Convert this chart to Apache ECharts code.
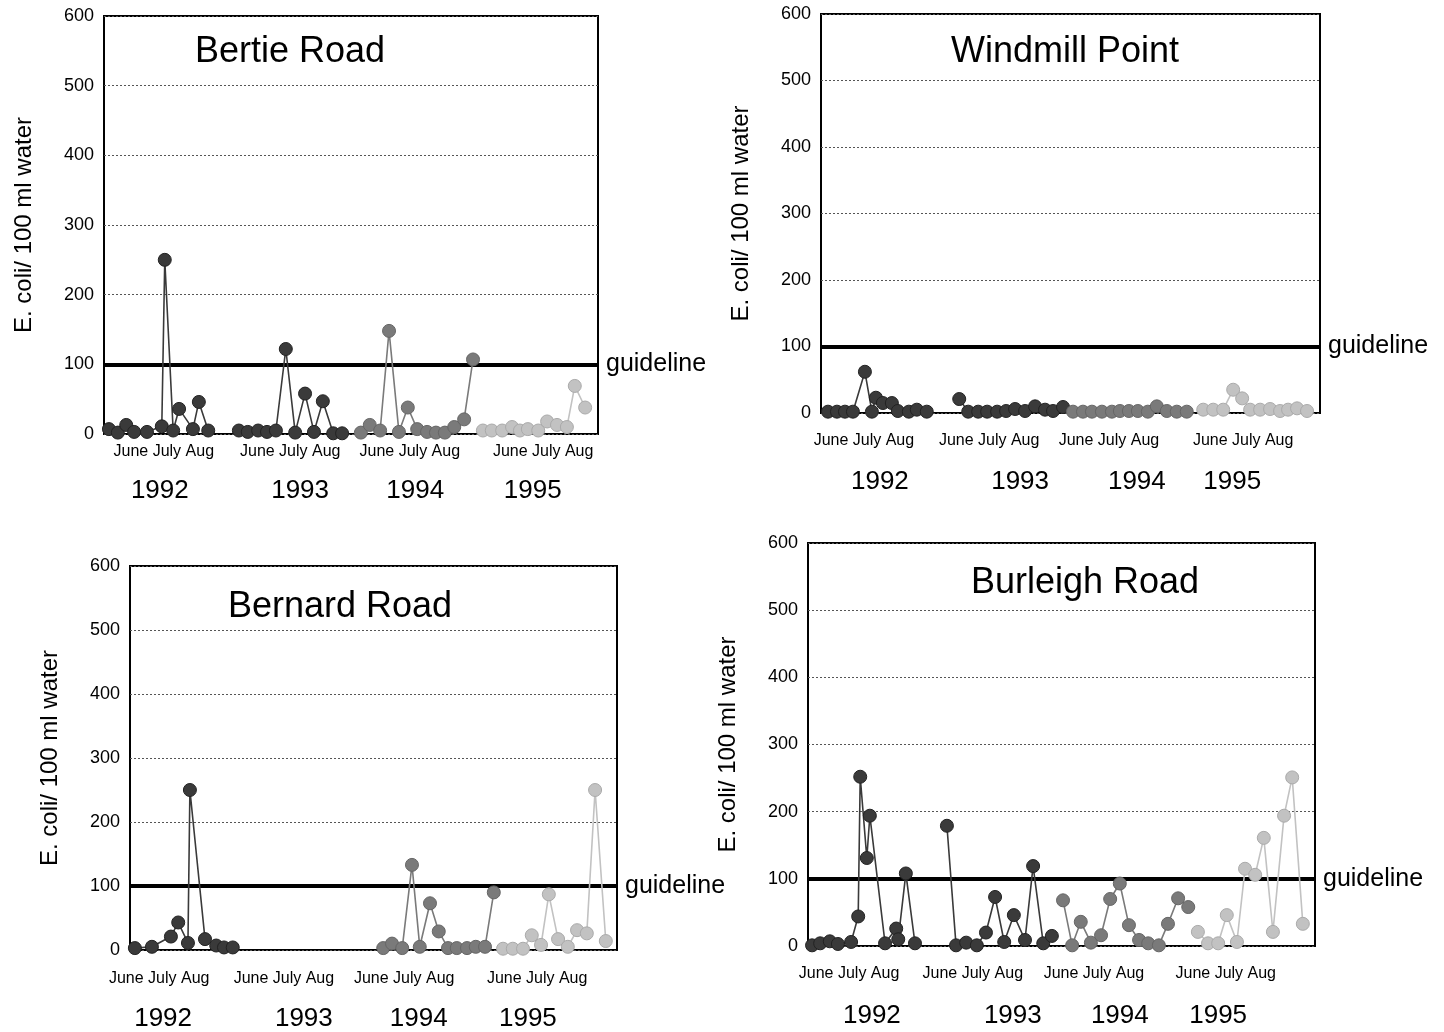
<!DOCTYPE html>
<html><head><meta charset="utf-8">
<script src="https://cdn.jsdelivr.net/npm/echarts@6/dist/echarts.min.js"></script>
<style>html,body{margin:0;padding:0;background:#fff}#c{width:1444px;height:1032px}</style>
</head><body><div id="c"></div><script>
// ---- data: [sampling position along season axis (0-100), E. coli per 100 ml]
const bertie1992 = [[1.0,7],[2.8,2],[4.5,13],[6.1,3],[8.7,3],[11.7,11],[12.3,250],[14.0,5],[15.2,36],[18.0,7],[19.2,46],[21.1,5]];
const bertie1993 = [[27.3,5],[29.1,3],[31.2,5],[33.0,3],[34.8,5],[36.8,122],[38.7,2],[40.7,58],[42.5,3],[44.3,47],[46.4,1],[48.2,1]];
const bertie1994 = [[52.0,2],[53.8,13],[55.9,5],[57.7,148],[59.7,3],[61.5,38],[63.4,7],[65.4,3],[67.2,2],[69.0,2],[70.9,10],[72.9,21],[74.7,107]];
const bertie1995 = [[76.7,5],[78.5,5],[80.6,5],[82.6,10],[84.2,5],[85.8,7],[87.9,5],[89.7,18],[91.7,13],[93.7,10],[95.3,69],[97.4,38]];

const windmill1992 = [[1.4,2],[3.2,2],[4.8,2],[6.4,2],[8.8,62],[10.2,2],[11.0,23],[12.4,15],[14.2,15],[15.4,3],[17.6,2],[19.2,5],[21.2,2]];
const windmill1993 = [[27.7,21],[29.5,2],[31.5,2],[33.3,2],[35.3,2],[37.1,3],[38.9,6],[40.9,3],[42.9,10],[44.9,5],[46.5,3],[48.5,9]];
const windmill1994 = [[50.5,2],[52.5,2],[54.3,2],[56.3,2],[58.3,2],[59.9,3],[61.7,3],[63.5,3],[65.5,2],[67.3,10],[69.3,3],[71.3,2],[73.3,2]];
const windmill1995 = [[76.6,5],[78.6,5],[80.6,5],[82.6,35],[84.4,22],[86.0,5],[88.0,5],[90.0,6],[92.0,3],[93.6,5],[95.4,7],[97.4,3]];

const bernard1992 = [[1.0,3],[4.5,5],[8.4,21],[9.9,43],[11.9,11],[12.3,250],[15.4,17],[17.7,7],[19.3,4],[21.1,4]];
const bernard1993 = [];
const bernard1994 = [[52.0,3],[53.8,10],[55.9,3],[57.9,133],[59.5,5],[61.6,73],[63.4,29],[65.3,3],[67.1,3],[69.2,3],[71.0,5],[72.9,5],[74.7,90]];
const bernard1995 = [[76.6,2],[78.6,2],[80.7,2],[82.5,23],[84.4,8],[86.0,87],[87.9,17],[89.9,5],[91.8,31],[93.8,26],[95.5,250],[97.7,14]];

const burleigh1992 = [[0.8,1],[2.4,4],[4.3,7],[5.9,3],[8.5,6],[9.9,44],[10.3,252],[11.6,131],[12.2,194],[15.2,4],[17.4,26],[17.8,10],[19.3,108],[21.1,4]];
const burleigh1993 = [[27.4,179],[29.2,1],[31.2,5],[33.3,1],[35.1,20],[36.9,73],[38.7,6],[40.6,46],[42.8,9],[44.4,119],[46.4,4],[48.1,15]];
const burleigh1994 = [[50.3,68],[52.1,1],[53.8,36],[55.8,5],[57.8,16],[59.6,70],[61.5,93],[63.3,31],[65.3,9],[67.1,4],[69.2,1],[71.0,33],[73.0,71],[75.0,58]];
const burleigh1995 = [[76.9,21],[78.9,4],[80.9,4],[82.6,46],[84.6,6],[86.2,115],[88.2,106],[89.9,161],[91.7,21],[93.9,194],[95.5,251],[97.6,33]];

const years = ['1992','1993','1994','1995'];
const monthLabel = 'June July Aug';
const yTicks = [0,100,200,300,400,500,600];
const guideline = 100;
const yName = 'E. coli/ 100 ml water';

const bertieMonthPos = [12.1,37.7,61.9,88.9];
const bertieYearPos = [11.3,39.7,63.0,86.8];
const windmillMonthPos = [8.6,33.7,57.7,84.6];
const windmillYearPos = [11.8,39.9,63.3,82.4];
const bernardMonthPos = [6.0,31.6,56.3,83.6];
const bernardYearPos = [6.8,35.7,59.3,81.7];
const burleighMonthPos = [8.1,32.5,56.4,82.4];
const burleighYearPos = [12.6,40.4,61.5,80.9];

// ---- layout / style
const FONT = '"Liberation Sans", Arial, Helvetica, sans-serif';
const yearColors = ['#3a3a3a','#3a3a3a','#7a7a7a','#c2c2c2'];

const panels = [
  {title:'Bertie Road', grid:{left:104,top:16,width:494,height:418}, data:[bertie1992,bertie1993,bertie1994,bertie1995],
   monthPos:bertieMonthPos, yearPos:bertieYearPos, monthMargin:10, yearOffset:34, titleX:290, titleY:52},
  {title:'Windmill Point', grid:{left:821,top:14,width:499,height:399}, data:[windmill1992,windmill1993,windmill1994,windmill1995],
   monthPos:windmillMonthPos, yearPos:windmillYearPos, monthMargin:20, yearOffset:46, titleX:1065, titleY:52},
  {title:'Bernard Road', grid:{left:130,top:566,width:487,height:384}, data:[bernard1992,bernard1993,bernard1994,bernard1995],
   monthPos:bernardMonthPos, yearPos:bernardYearPos, monthMargin:21, yearOffset:46, titleX:340, titleY:607},
  {title:'Burleigh Road', grid:{left:808,top:543,width:507,height:403}, data:[burleigh1992,burleigh1993,burleigh1994,burleigh1995],
   monthPos:burleighMonthPos, yearPos:burleighYearPos, monthMargin:20, yearOffset:47, titleX:1085, titleY:583}
];

const option = {backgroundColor:'#fff', animation:false, grid:[], xAxis:[], yAxis:[], series:[], graphic:[]};

panels.forEach((p, i) => {
  option.grid.push(Object.assign({show:true, borderColor:'#000', borderWidth:2, backgroundColor:'transparent',
    containLabel:false, outerBoundsMode:'none'}, p.grid));
  const xBase = {type:'value', gridIndex:i, position:'bottom', min:0, max:100, axisLine:{show:false}, axisTick:{show:false}, splitLine:{show:false}};
  option.xAxis.push(Object.assign({}, xBase, {
    axisLabel:{customValues:p.monthPos, formatter:()=>monthLabel, fontSize:16, color:'#000', fontFamily:FONT, margin:p.monthMargin}
  }));
  option.xAxis.push(Object.assign({}, xBase, {
    offset:p.yearOffset,
    axisLabel:{customValues:p.yearPos, formatter:(v)=>years[p.yearPos.indexOf(v)] || '', fontSize:26, color:'#000', fontFamily:FONT, margin:10}
  }));
  option.yAxis.push({
    type:'value', gridIndex:i, min:yTicks[0], max:yTicks[yTicks.length-1], interval:100,
    name:yName, nameLocation:'middle', nameGap:68, nameRotate:90,
    nameTextStyle:{fontSize:24, color:'#000', fontFamily:FONT},
    axisLine:{show:false}, axisTick:{show:false},
    axisLabel:{fontSize:18, color:'#000', fontFamily:FONT, margin:10},
    splitLine:{show:true, lineStyle:{color:'#555', type:[2,2], width:1}}
  });
  p.data.forEach((d, k) => {
    const s = {
      type:'line', name:years[k], xAxisIndex:i*2, yAxisIndex:i, data:d,
      symbol:'circle', symbolSize:13, showSymbol:true,
      lineStyle:{color:yearColors[k], width:1.6},
      itemStyle:{color:yearColors[k], borderColor:k<2?'#222':(k===2?'#666':'#aaa'), borderWidth:1},
      z:3, silent:true
    };
    if (k === 0) {
      s.markLine = {
        silent:true, symbol:'none', z:2,
        data:[{yAxis:guideline}],
        lineStyle:{color:'#000', width:4, type:'solid'},
        label:{show:true, position:'end', formatter:'guideline', fontSize:25, color:'#000', fontFamily:FONT, distance:8}
      };
    }
    option.series.push(s);
  });
  option.graphic.push({
    type:'text', x:p.titleX, y:p.titleY, silent:true,
    style:{text:p.title, font:'36px ' + FONT, fill:'#000', textAlign:'center', textVerticalAlign:'middle'}
  });
});

const chart = echarts.init(document.getElementById('c'), null, {renderer:'canvas'});
chart.setOption(option);
</script></body></html>
